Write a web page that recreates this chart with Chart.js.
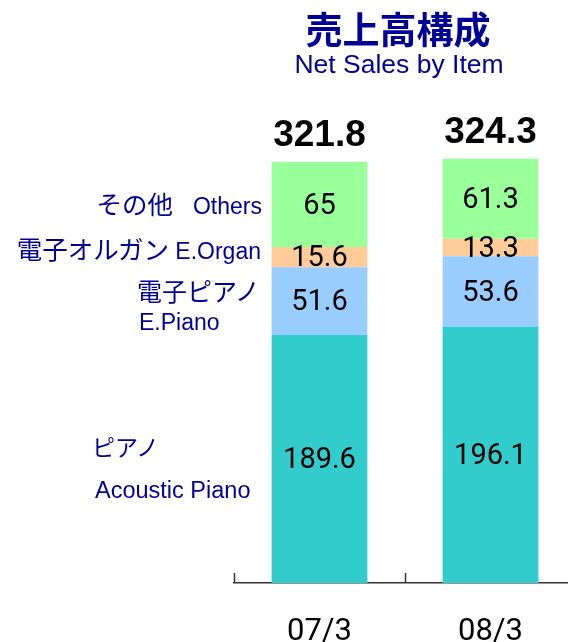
<!DOCTYPE html>
<html>
<head>
<meta charset="utf-8">
<script src="https://cdn.jsdelivr.net/npm/chart.js@4"></script>
<style>
  html, body { margin: 0; padding: 0; overflow: hidden; background: #fff; }
  #wrap { position: relative; width: 576px; height: 642px; }
  #wrap canvas { position: absolute; left: 0; top: 0; }
  .txt {
    position: absolute;
    color: #000099;
    font-family: "Liberation Sans", Arial, sans-serif;
    font-size: 23px;
    line-height: 1;
    white-space: nowrap;
  }
  .jp { font-family: "Noto Sans CJK JP", sans-serif; font-size: 25.5px; }
</style>
</head>
<body>
<div id="wrap">
  <canvas id="myChart" width="576" height="642"></canvas>
  <div class="txt" style="left:290px; width:216px; text-align:center; top:10px; font-size:37px; font-weight:bold; font-family:'Noto Sans CJK JP', sans-serif;">売上高構成</div>
  <div class="txt" style="left:250px; width:298px; text-align:center; top:51px; font-size:26.5px;">Net Sales by Item</div>

  <div class="txt" style="left:0; width:262px; text-align:right; top:190px;"><span class="jp">その他</span><span style="margin-left:20px;">Others</span></div>
  <div class="txt" style="left:0; width:261px; text-align:right; top:235px;"><span class="jp">電子オルガン</span> E.Organ</div>
  <div class="txt jp" style="left:137px; top:278px; font-size:25px;">電子ピアノ</div>
  <div class="txt" style="left:139px; top:311px;">E.Piano</div>
  <div class="txt jp" style="left:92px; top:435px; font-size:23px;">ピアノ</div>
  <div class="txt" style="left:95px; top:479px; font-size:23.5px;">Acoustic Piano</div>
</div>

<script>
const categories = ['07/3', '08/3'];
const pianoSales = [189.6, 196.1];
const ePianoSales = [51.6, 53.6];
const eOrganSales = [15.6, 13.3];
const otherSales = [65, 61.3];
const totalSales = [321.8, 324.3];

// value labels, totals and the small upward tick marks
const barLabels = {
    id: 'barLabels',
    afterDatasetsDraw(chart) {
        const ctx = chart.ctx;
        ctx.save();
        ctx.textAlign = 'center';
        ctx.textBaseline = 'middle';
        ctx.fillStyle = '#000';

        ctx.font = '29px Roboto';
        chart.data.datasets.forEach((ds, di) => {
            const meta = chart.getDatasetMeta(di);
            meta.data.forEach((bar, i) => {
                ctx.fillText(String(ds.data[i]), bar.x, (bar.y + bar.base) / 2 + 2);
            });
        });

        const topMeta = chart.getDatasetMeta(chart.data.datasets.length - 1);
        ctx.font = 'bold 37px "Liberation Sans", Arial';
        topMeta.data.forEach((bar, i) => {
            ctx.fillText(totalSales[i].toFixed(1), bar.x, bar.y - 26);
        });

        const xScale = chart.scales.x;
        const bottom = chart.chartArea.bottom;
        const half = (xScale.getPixelForValue(1) - xScale.getPixelForValue(0)) / 2;
        ctx.strokeStyle = '#333';
        ctx.lineWidth = 1.5;
        categories.forEach((c, i) => {
            const x = Math.round(xScale.getPixelForValue(i) - half) + 0.5;
            ctx.beginPath();
            ctx.moveTo(x, bottom - 10);
            ctx.lineTo(x, bottom);
            ctx.stroke();
        });
        ctx.restore();
    }
};

function makeSet(label, data, color) {
    return {
        label: label,
        data: data,
        backgroundColor: color,
        borderWidth: 0,
        barPercentage: 0.56,
        categoryPercentage: 1.0
    };
}

const config = {
    type: 'bar',
    data: {
        labels: categories,
        datasets: [
            makeSet('Acoustic Piano', pianoSales, '#33CCCC'),
            makeSet('E.Piano', ePianoSales, '#99CCFF'),
            makeSet('E.Organ', eOrganSales, '#FFCC99'),
            makeSet('Others', otherSales, '#99FF99')
        ]
    },
    options: {
        responsive: false,
        animation: false,
        layout: { padding: { left: 234, right: 0, top: 125, bottom: -32 } },
        plugins: {
            legend: { display: false },
            tooltip: { enabled: false }
        },
        scales: {
            x: {
                stacked: true,
                grid: { display: false },
                border: { display: true, color: '#333', width: 1.5 },
                ticks: {
                    color: '#000',
                    padding: 26,
                    font: { family: 'Roboto', size: 31, lineHeight: 1 }
                }
            },
            y: {
                stacked: true,
                display: false,
                min: 0,
                max: 350
            }
        }
    },
    plugins: [barLabels]
};

const ctx = document.getElementById('myChart').getContext('2d');
const myChart = new Chart(ctx, config);
</script>
</body>
</html>
